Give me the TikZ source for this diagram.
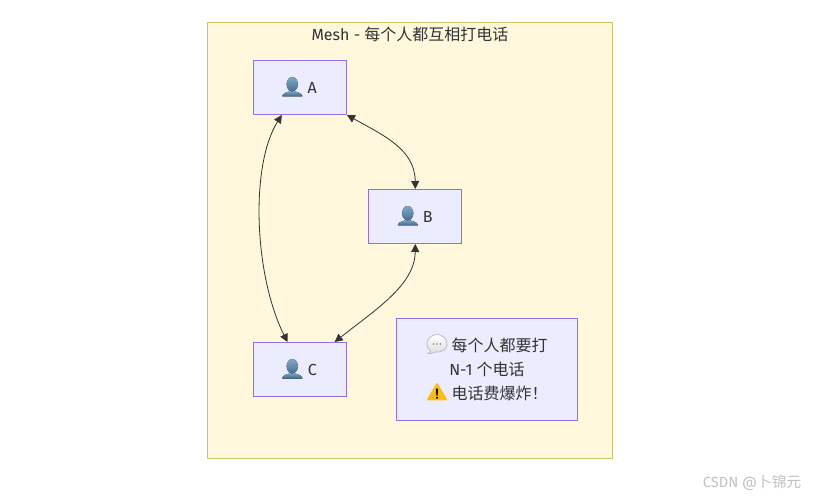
\documentclass[tikz,border=0pt]{standalone}
\usepackage{fontspec}
\usetikzlibrary{arrows.meta,calc}
\setmainfont{Fira Sans}
\newfontfamily\cjk{Noto Sans CJK SC}
\newfontfamily\emo{Noto Emoji}
\definecolor{bgbox}{HTML}{FFF8DC}
\definecolor{bgedge}{HTML}{C8C56A}
\definecolor{nodefill}{HTML}{ECECFF}
\definecolor{nodeedge}{HTML}{9370DB}
\definecolor{ink}{HTML}{333333}
\definecolor{persontop}{HTML}{7FA8C6}
\definecolor{personlow}{HTML}{3F6488}
\definecolor{warn}{HTML}{F9BE16}
\definecolor{bubbleline}{HTML}{B5B5B5}
\tikzset{
  x=0.75pt,y=-0.75pt,
  personbox/.style={draw=nodeedge,fill=nodefill,line width=0.75pt,minimum width=70pt,minimum height=40.5pt,inner sep=0pt,text=ink,font=\fontsize{12}{15}\selectfont},
  notebox/.style={draw=nodeedge,fill=nodefill,line width=0.75pt,minimum width=135.75pt,minimum height=76.5pt,inner sep=0pt,text=ink,align=center,font=\fontsize{12}{18}\selectfont},
  link/.style={draw=ink,line width=0.6pt,{Triangle[length=6pt,width=6pt]}-{Triangle[length=6pt,width=6pt]}},
  caption/.style={text=ink,font=\fontsize{12}{15}\selectfont,inner sep=0pt},
}
% emoji as text, occupying a fixed 20-21 px cell
\newcommand{\glyph}[2]{\makebox[#1][c]{\smash{\emo\fontsize{12}{12}\selectfont\textcolor{nodefill}{#2}}}}
% coloured emoji faces, placed relative to a named node
\newcommand{\persondraw}[1]{%
  \begin{scope}[shift={(#1.center)},yshift=-0.75pt]
    \fill[top color=persontop,bottom color=personlow] (-17.5,8) -- (-17.5,7.2) .. controls (-16.5,4) and (-11,3.6) .. (-9.5,2.5) -- (-5.5,2.5) .. controls (-4,3.6) and (1.5,4) .. (2.5,7.2) -- (2.5,8) -- cycle;
    \fill[top color=persontop,bottom color=personlow!85!persontop] (-7.5,-4.3) ellipse [x radius=5.6,y radius=7.2];
  \end{scope}}
\begin{document}
\begin{tikzpicture}
\useasboundingbox (0,0) rectangle (814,499);
\fill[white] (0,0) rectangle (814,499);
\node[draw=bgedge,fill=bgbox,line width=0.75pt,minimum width=303.5pt,minimum height=326.25pt,inner sep=0pt] (mesh) at (410,240.5) {};
\node[caption] (title) at (410,34) {Mesh - {\cjk 每个人都互相打电话}};
\node[personbox] (a) at (299.75,87.5) {\glyph{15.75pt}{👤}\hspace{3pt}A};
\node[personbox] (b) at (415.25,216.5) {\glyph{15.75pt}{👤}\hspace{3pt}B};
\node[personbox] (c) at (299.75,369.5) {\glyph{15.75pt}{👤}\hspace{3pt}C};
\node[notebox] (note) at (487,369.5) {\glyph{15pt}{💬}\hspace{3.75pt}{\cjk 每个人都要打}\\N-1 {\cjk 个电话}\\\glyph{15pt}{⚠}\hspace{3.75pt}{\cjk 电话费爆炸！}};
\persondraw{a}
\persondraw{b}
\persondraw{c}
% speech bubble
\begin{scope}[shift={(note.center)}]
  \draw[bubbleline,line width=0.5pt,top color=white,bottom color=black!14] (-59,-16) .. controls (-55,-15) and (-54,-17) .. (-52,-17.5) .. controls (-44,-17) and (-40,-20.5) .. (-40,-25.5) .. controls (-40,-31) and (-45,-35) .. (-50,-35) .. controls (-55,-35) and (-60,-31) .. (-60,-25.5) .. controls (-60,-22) and (-58,-19.5) .. (-56.5,-19) .. controls (-56.5,-18) and (-57.5,-17) .. (-59,-16) -- cycle;
  \fill[black!50] (-53.5,-25.5) circle (0.9) (-50,-25.5) circle (0.9) (-46.5,-25.5) circle (0.9);
  % warning sign
  \fill[warn,draw=warn,line width=1.2pt,line join=round] (-50,14.5) -- (-40.7,30) -- (-59.3,30) -- cycle;
  \fill[black] (-51.1,19) -- (-48.9,19) -- (-49.4,26) -- (-50.6,26) -- cycle;
  \fill[black] (-50,28.2) circle (1.2);
\end{scope}
\draw[link] (a.south east) .. controls (385,136) and (415,150) .. (b.north);
\draw[link] ($(a.south west)!0.31!(a.south east)$) .. controls (250,165) and (254,275) .. ($(c.north west)!0.37!(c.north east)$);
\draw[link] (b.south) .. controls (415,285) and (375,310) .. ($(c.north west)!0.87!(c.north east)$);
\node[inner sep=0pt,text=black!24,font=\fontsize{11}{13}\selectfont] (mark1) at (752,483) {CSDN @{\cjk 卜锦元}};
\end{tikzpicture}
\end{document}
